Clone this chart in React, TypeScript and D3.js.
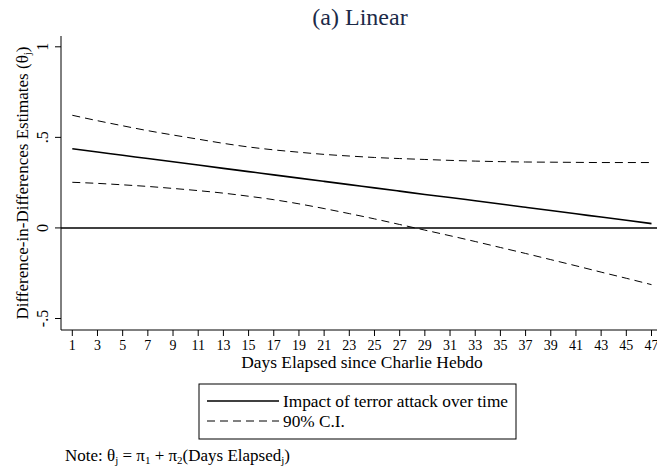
import React from "react";
import * as d3 from "d3";

const days = [1, 3, 5, 7, 9, 11, 13, 15, 17, 19, 21, 23, 25, 27, 29, 31, 33, 35, 37, 39, 41, 43, 45, 47];
const estimate = [0.437, 0.419, 0.401, 0.383, 0.365, 0.347, 0.329, 0.311, 0.293, 0.275, 0.257, 0.239, 0.221, 0.203, 0.185, 0.168, 0.150, 0.132, 0.114, 0.096, 0.078, 0.060, 0.042, 0.024];
const upperCI = [0.622, 0.592, 0.564, 0.537, 0.513, 0.490, 0.467, 0.447, 0.431, 0.418, 0.406, 0.397, 0.389, 0.383, 0.378, 0.373, 0.369, 0.366, 0.364, 0.363, 0.362, 0.361, 0.361, 0.361];
const lowerCI = [0.252, 0.246, 0.238, 0.229, 0.218, 0.206, 0.192, 0.175, 0.156, 0.133, 0.107, 0.079, 0.050, 0.019, -0.012, -0.043, -0.075, -0.108, -0.141, -0.175, -0.209, -0.244, -0.278, -0.313];
const yTicks = [-0.5, 0, 0.5, 1];
const yTickLabels = ["-.5", "0", ".5", "1"];
const legendLabels = ["Impact of terror attack over time", "90% C.I."];

const FONT = "'Liberation Serif', 'Times New Roman', Times, serif";

export default function App() {
  const left = 61, right = 657, top = 36, bottom = 330;
  const x = d3.scaleLinear().domain([1, 47]).range([72.3, 651.5]);
  const y = d3.scaleLinear().domain([-0.5, 1]).range([318.5, 46.8]);
  const line = d3.line<number>().x((_, i) => x(days[i])).y((d) => y(d)).curve(d3.curveMonotoneX);

  return (
    <svg width={657} height={470} style={{ position: "absolute", left: 0, top: 0, background: "#fff", fontFamily: FONT }}>
      <rect x={0} y={0} width={657} height={470} fill="#fff" />
      <text x={360} y={25} textAnchor="middle" fontSize={24} fill="#1c2a48">(a) Linear</text>

      {/* axes */}
      <line x1={left} x2={left} y1={top} y2={bottom} stroke="#000" strokeWidth={1} />
      <line x1={left} x2={right} y1={bottom} y2={bottom} stroke="#000" strokeWidth={1} />
      {yTicks.map((t, i) => (
        <g key={t}>
          <line x1={left - 6} x2={left} y1={y(t)} y2={y(t)} stroke="#000" />
          <text transform={`translate(${left - 13},${y(t)}) rotate(-90)`} textAnchor="middle" fontSize={16} fill="#000">
            {yTickLabels[i]}
          </text>
        </g>
      ))}
      {days.map((d) => (
        <g key={d}>
          <line x1={x(d)} x2={x(d)} y1={bottom} y2={bottom + 6} stroke="#000" />
          <text x={x(d)} y={bottom + 20} textAnchor="middle" fontSize={14} fill="#000">{d}</text>
        </g>
      ))}
      <text x={362} y={368} textAnchor="middle" fontSize={17.4} fill="#000">Days Elapsed since Charlie Hebdo</text>
      <text transform={`translate(28,${(top + bottom) / 2}) rotate(-90)`} textAnchor="middle" fontSize={17} fill="#000">
        Difference-in-Differences Estimates (θ<tspan fontSize={11} dy={3}>j</tspan><tspan dy={-3}>)</tspan>
      </text>

      {/* zero line */}
      <line x1={left} x2={right} y1={y(0)} y2={y(0)} stroke="#000" strokeWidth={1.4} />

      {/* series */}
      <path d={line(upperCI) || ""} fill="none" stroke="#000" strokeWidth={1} strokeDasharray="8,5" />
      <path d={line(lowerCI) || ""} fill="none" stroke="#000" strokeWidth={1} strokeDasharray="8,5" />
      <path d={line(estimate) || ""} fill="none" stroke="#000" strokeWidth={1.6} />

      {/* legend */}
      <rect x={199} y={384} width={317} height={55} fill="#fff" stroke="#000" strokeWidth={1} />
      <line x1={207} x2={279} y1={401} y2={401} stroke="#000" strokeWidth={1.6} />
      <text x={283} y={407} fontSize={17.3} fill="#000">{legendLabels[0]}</text>
      <line x1={207} x2={279} y1={421} y2={421} stroke="#000" strokeWidth={1} strokeDasharray="8,5" />
      <text x={283} y={427} fontSize={17.3} fill="#000">{legendLabels[1]}</text>

      {/* note */}
      <text x={65} y={461} fontSize={17} fill="#000">
        Note: θ<tspan fontSize={11} dy={3}>j</tspan>
        <tspan dy={-3}> = π</tspan><tspan fontSize={11} dy={3}>1</tspan>
        <tspan dy={-3}> + π</tspan><tspan fontSize={11} dy={3}>2</tspan>
        <tspan dy={-3}>(Days Elapsed</tspan><tspan fontSize={11} dy={3}>j</tspan>
        <tspan dy={-3}>)</tspan>
      </text>
    </svg>
  );
}
